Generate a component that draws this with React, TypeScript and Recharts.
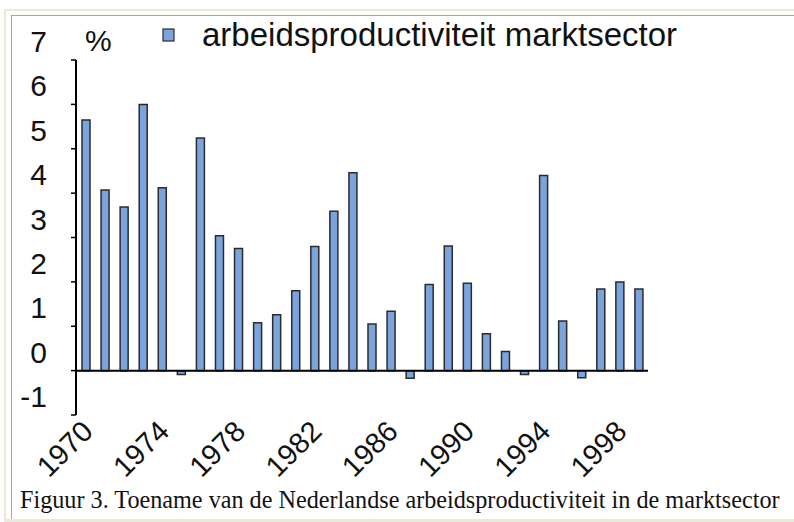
import { BarChart, Bar, XAxis, YAxis, ReferenceLine, Legend, Label } from "recharts";

const years = [
  "1970", "1971", "1972", "1973", "1974", "1975", "1976", "1977", "1978", "1979",
  "1980", "1981", "1982", "1983", "1984", "1985", "1986", "1987", "1988", "1989",
  "1990", "1991", "1992", "1993", "1994", "1995", "1996", "1997", "1998", "1999",
];

const productiviteit = [
  5.65, 4.07, 3.69, 6.0, 4.12, -0.09, 5.24, 3.04, 2.75, 1.08,
  1.26, 1.8, 2.8, 3.59, 4.46, 1.05, 1.34, -0.17, 1.94, 2.81,
  1.97, 0.83, 0.43, -0.09, 4.4, 1.12, -0.16, 1.84, 2.0, 1.84,
];

const yTicks = [-1, 0, 1, 2, 3, 4, 5, 6, 7];

const seriesName = "arbeidsproductiviteit marktsector";
const caption = "Figuur 3. Toename van de Nederlandse arbeidsproductiviteit in de marktsector";

const data = years.map((year, i) => ({ year, waarde: productiviteit[i] }));

const barFill = "#7ba4df";
const barStroke = "#2b2b2b";
const sans = "'Liberation Sans', Arial, sans-serif";

function YTick(props: any) {
  const { x, y, payload } = props;
  return (
    <text x={x - 22} y={y - 8} textAnchor="end" fontSize={30} fontFamily={sans} fill="#111">
      {payload.value}
    </text>
  );
}

function XTick(props: any) {
  const { x, y, payload } = props;
  const ax = x + 9;
  const ay = y + 18;
  return (
    <text
      x={ax}
      y={ay}
      textAnchor="end"
      fontSize={29}
      fontFamily={sans}
      fill="#111"
      transform={`rotate(-45, ${ax}, ${ay})`}
    >
      {payload.value}
    </text>
  );
}

function LegendBox() {
  return (
    <div style={{ display: "flex", alignItems: "center", fontFamily: sans, fontSize: 33, color: "#111", whiteSpace: "nowrap" }}>
      <svg width={14} height={14} style={{ marginRight: 26 }}>
        <rect x={1} y={1} width={11} height={12} fill={barFill} stroke={barStroke} strokeWidth={1.2} />
      </svg>
      <span>{seriesName}</span>
    </div>
  );
}

export default function App() {
  return (
    <div style={{ position: "absolute", left: 0, top: 0, width: 794, height: 522, background: "#fff", overflow: "hidden" }}>
      <div style={{ position: "absolute", left: 4, top: 9, right: -4, bottom: 0, borderLeft: "2px solid #ece9d8", borderTop: "2px solid #ece9d8", borderBottom: "3px solid #ece9d8" }} />
      <div style={{ position: "absolute", left: 11, top: 15, right: -4, bottom: 3, borderLeft: "1px solid #a7a6a0", borderTop: "1px solid #a7a6a0" }} />
      <BarChart
        width={794}
        height={522}
        data={data}
        margin={{ top: 60, right: 146, bottom: 47, left: 10 }}
        barCategoryGap={0}
        style={{ position: "absolute", left: 0, top: 0 }}
      >
        <XAxis
          dataKey="year"
          interval={3}
          axisLine={false}
          tickLine={false}
          tickSize={0}
          tickMargin={0}
          height={60}
          tick={<XTick />}
        />
        <YAxis
          domain={[-1, 7]}
          ticks={yTicks}
          width={66}
          axisLine={{ stroke: "#000", strokeWidth: 2 }}
          tickLine={{ stroke: "#000", strokeWidth: 1.5 }}
          tickSize={5}
          tickMargin={2}
          tick={<YTick />}
        >
          <Label
            content={() => (
              <text x={85} y={51} fontSize={30} fontFamily={sans} fill="#111">
                %
              </text>
            )}
          />
        </YAxis>
        <ReferenceLine y={0} stroke="#000" strokeWidth={2} />
        <Legend
          verticalAlign="middle"
          align="center"
          layout="horizontal"
          wrapperStyle={{ top: 16, left: 162, width: "auto" }}
          content={() => <LegendBox />}
        />
        <Bar
          dataKey="waarde"
          name={seriesName}
          fill={barFill}
          stroke={barStroke}
          strokeWidth={1.5}
          barSize={8}
          isAnimationActive={false}
        />
      </BarChart>
      <div
        style={{
          position: "absolute",
          left: 20,
          top: 486,
          fontFamily: "'Liberation Serif', 'Times New Roman', serif",
          fontSize: 24.2,
          color: "#111",
          whiteSpace: "nowrap",
        }}
      >
        {caption}
      </div>
    </div>
  );
}
